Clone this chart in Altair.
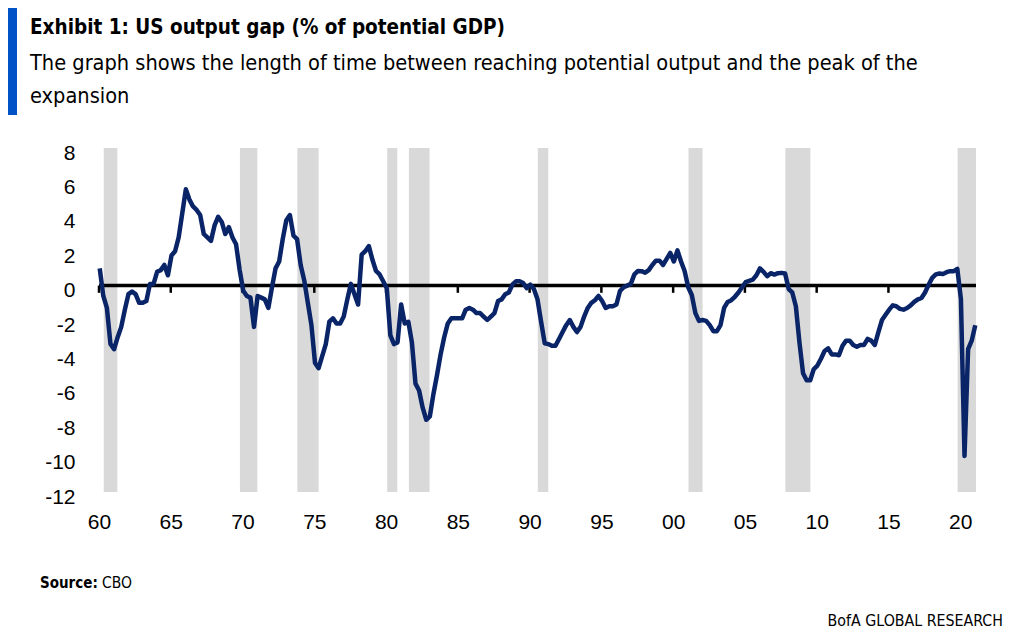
import altair as alt
import pandas as pd

# US output gap, % of potential GDP, quarterly from 1960Q1
gap_1960s = [1.0, -0.6, -1.3, -3.4, -3.7, -3.0, -2.4, -1.4, -0.5, -0.35, -0.5, -1.0,
             -1.0, -0.9, 0.1, 0.1, 0.8, 0.9, 1.2, 0.6, 1.75, 2.0, 2.8, 4.2,
             5.6, 5.0, 4.6, 4.4, 4.1, 3.0, 2.8, 2.6, 3.5, 4.0, 3.7, 3.0,
             3.4, 2.8, 2.4, 0.9]
gap_1970s = [-0.3, -0.6, -0.7, -2.4, -0.6, -0.7, -0.8, -1.3, -0.1, 1.0, 1.4, 2.7,
             3.8, 4.1, 2.9, 2.7, 1.2, 0.3, -1.0, -2.3, -4.5, -4.8, -4.1, -3.4,
             -2.1, -1.9, -2.2, -2.2, -1.8, -0.8, 0.1, -0.5, -1.1, 1.8, 2.0, 2.3,
             1.5, 0.85, 0.65, 0.25]
gap_1980s = [-0.15, -2.9, -3.4, -3.3, -1.1, -2.2, -2.1, -3.3, -5.7, -6.1, -7.1, -7.8,
             -7.6, -6.3, -5.2, -4.0, -3.0, -2.2, -1.9, -1.9, -1.9, -1.9, -1.4, -1.3,
             -1.4, -1.6, -1.6, -1.8, -2.0, -1.8, -1.6, -0.9, -0.8, -0.5, -0.4, 0.05,
             0.25, 0.25, 0.15, -0.15]
gap_1990s = [0.05, -0.2, -0.8, -2.1, -3.35, -3.4, -3.5, -3.5, -3.1, -2.7, -2.3, -2.0,
             -2.4, -2.7, -2.4, -1.8, -1.3, -1.0, -0.85, -0.6, -0.9, -1.3, -1.2, -1.2,
             -1.1, -0.3, -0.1, 0.0, 0.1, 0.65, 0.85, 0.84, 0.75, 0.9, 1.2, 1.45,
             1.45, 1.2, 1.55, 1.9]
gap_2000s = [1.4, 2.05, 1.4, 0.85, -0.1, -0.55, -1.6, -2.05, -2.0, -2.05, -2.3, -2.65,
             -2.65, -2.3, -1.3, -0.95, -0.85, -0.65, -0.4, -0.1, 0.2, 0.28, 0.35, 0.6,
             1.0, 0.8, 0.55, 0.72, 0.64, 0.72, 0.74, 0.7, -0.2, -0.4, -1.2, -3.3,
             -5.1, -5.5, -5.5, -4.85]
gap_2010s = [-4.65, -4.25, -3.8, -3.65, -4.0, -4.0, -4.05, -3.5, -3.2, -3.2, -3.45, -3.55,
             -3.45, -3.45, -3.1, -3.2, -3.45, -2.7, -2.0, -1.7, -1.4, -1.15, -1.2, -1.35,
             -1.4, -1.3, -1.15, -0.95, -0.8, -0.72, -0.4, 0.05, 0.45, 0.65, 0.7, 0.68,
             0.78, 0.84, 0.84, 0.97]
gap_2020s = [-0.8, -9.9, -3.7, -3.2, -2.3]

gap = gap_1960s + gap_1970s + gap_1980s + gap_1990s + gap_2000s + gap_2010s + gap_2020s
quarter_date = [1960 + i / 4 + 0.05 for i in range(len(gap))]
df = pd.DataFrame({"date": quarter_date, "gap": gap})

# Recession bands (fractional years)
rec_start = [1960.33, 1969.82, 1973.82, 1980.08, 1981.59, 1990.57, 2001.07, 2007.82, 2019.82]
rec_end = [1961.28, 1971.03, 1975.30, 1980.78, 1983.03, 1991.30, 2002.05, 2009.56, 2021.10]
rec = pd.DataFrame({"start": rec_start, "end": rec_end})

tick_years = list(range(1960, 2021, 5))
y_ticks = list(range(-12, 9, 2))

title_text = "Exhibit 1: US output gap (% of potential GDP)"
subtitle_1 = "The graph shows the length of time between reaching potential output and the peak of the"
subtitle_2 = "expansion"

NARROW = "'DejaVu Sans Condensed', 'Liberation Sans Narrow', sans-serif"
AXISFONT = "Liberation Sans"

x_scale = alt.Scale(domain=[1960, 2021.1], nice=False, zero=False)
y_scale = alt.Scale(domain=[-12, 8], nice=False, zero=False)

x_axis = alt.Axis(values=tick_years, title=None, domain=False, ticks=False, tickSize=0,
                  grid=False, labelFont=AXISFONT, labelFontSize=21, labelColor="black",
                  labelPadding=19, labelFlush=False, labelOverlap=False,
                  labelExpr="(datum.value % 100) < 10 ? '0' + (datum.value % 100) : '' + (datum.value % 100)")
y_axis = alt.Axis(values=y_ticks, title=None, domain=False, ticks=False, tickSize=0,
                  grid=False, labelFont=AXISFONT, labelFontSize=21, labelColor="black",
                  labelPadding=24, labelOffset=5, labelFlush=False, labelOverlap=False,
                  labelExpr="'' + datum.value")

bands = alt.Chart(rec).mark_rect(color="#D9D9D9").encode(
    x=alt.X("start:Q", scale=x_scale, axis=x_axis),
    x2="end:Q",
    y=alt.Y(datum=8, scale=y_scale, axis=y_axis),
    y2=alt.datum(-12),
)

zero_rule = alt.Chart(pd.DataFrame({"v": [0]})).mark_rule(color="black", strokeWidth=3.5).encode(
    y=alt.Y("v:Q", scale=y_scale, axis=y_axis)
)

ticks = alt.Chart(pd.DataFrame({"yr": tick_years})).mark_rule(color="black", strokeWidth=2.5).encode(
    x=alt.X("yr:Q", scale=x_scale, axis=x_axis),
    y=alt.Y(datum=0, scale=y_scale, axis=y_axis),
    y2=alt.datum(-0.42),
)

line = alt.Chart(df).mark_line(color="#0A2468", strokeWidth=4.5, strokeJoin="round").encode(
    x=alt.X("date:Q", scale=x_scale, axis=x_axis),
    y=alt.Y("gap:Q", scale=y_scale, axis=y_axis),
)


def text_layer(txt, x, y, size, weight="normal", align="left", font=NARROW):
    return alt.Chart(pd.DataFrame({"t": [txt]})).mark_text(
        align=align, baseline="alphabetic", font=font, fontSize=size,
        fontWeight=weight, color="black"
    ).encode(x=alt.value(x), y=alt.value(y), text="t:N")


blue_bar = alt.Chart(pd.DataFrame({"k": [1]})).mark_rect(color="#0053C7").encode(
    x=alt.value(-91), x2=alt.value(-82), y=alt.value(-142), y2=alt.value(-33)
)

title = text_layer(title_text, -69, -114, 20.5, "bold")
sub1 = text_layer(subtitle_1, -69, -78, 21.6)
sub2 = text_layer(subtitle_2, -69, -45, 21.6)
src_b = text_layer("Source:", -59, 440, 15, "bold")
src_n = text_layer("CBO", 3, 440, 15.5)
brand = text_layer("BofA GLOBAL RESEARCH", 904, 478, 15.8, align="right")

chart = alt.layer(
    bands, zero_rule, ticks, line, blue_bar, title, sub1, sub2, src_b, src_n, brand
).properties(
    width=877, height=344,
    autosize=alt.AutoSizeParams(type="none"),
    padding={"left": 91, "top": 140, "right": 40, "bottom": 138},
).configure(background="white").configure_view(stroke=None)

chart.save("out.html", embed_options={"renderer": "svg", "actions": False})
